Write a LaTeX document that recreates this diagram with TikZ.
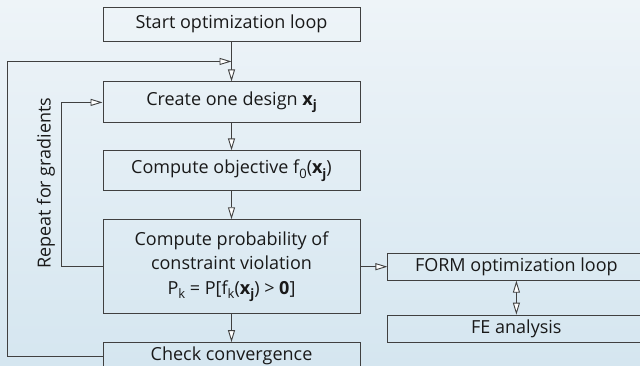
\documentclass[tikz,border=0pt]{standalone}
\usepackage{fontspec}
\setmainfont{Open Sans}
\usetikzlibrary{positioning,arrows.meta,calc}
\newcommand\lowsub[1]{\raisebox{-0.45ex}{\fontsize{13}{13}\selectfont #1}}

\begin{document}
\begin{tikzpicture}[
    x=1pt, y=-1pt,
    node distance=28pt and 27pt,
    stepbox/.style={draw=black!75, line width=0.9pt, minimum width=257pt, inner sep=0pt, align=center, text=black!90, font=\fontsize{18}{24.5}\selectfont},
    flow/.style={draw=black!75, line width=0.9pt, -{Triangle[open, fill=white, length=12pt, width=7pt]}},
    both/.style={flow, {Triangle[open, fill=white, length=12pt, width=7pt]}-{Triangle[open, fill=white, length=12pt, width=7pt]}}
  ]
  % background
  \useasboundingbox (0,0) rectangle (640,365);
  \shade[top color={rgb,255:red,238;green,244;blue,248}, bottom color={rgb,255:red,213;green,230;blue,240}] (0,0) rectangle (640,365);
  \clip (0,0) rectangle (640,365);

  % main column
  \node[stepbox, minimum height=34pt] (start) at (231.5,24) {Start optimization loop};
  \node[stepbox, minimum height=41pt, below=40pt of start] (create) {Create one design \textbf{x\lowsub{j}}};
  \node[stepbox, minimum height=40pt, below=27pt of create] (objective) {Compute objective f\lowsub{0}(\textbf{x\lowsub{j}})};
  \node[stepbox, minimum height=94pt, below=of objective] (prob) {Compute probability of\\constraint violation\\P\lowsub{k} = P[f\lowsub{k}(\textbf{x\lowsub{j}}) > \textbf{0}]};
  \node[stepbox, minimum height=27pt, below=of prob] (check) {Check convergence};

  % reliability side
  \node[stepbox, minimum height=27pt, right=of prob] (form) {FORM optimization loop};
  \node[stepbox, minimum height=27pt, below=34pt of form] (fe) {FE analysis};

  \coordinate (join) at ($(start.south)!0.5!(create.north)$);

  % connectors
  \draw[flow] (start) -- (create);
  \draw[flow] (create) -- (objective);
  \draw[flow] (objective) -- (prob);
  \draw[flow] (prob) -- (check);
  \draw[flow] (prob) -- (form);
  \draw[both] (form) -- (fe);
  \draw[flow] (check.west) -- ++(-95,0) |- (join);
  \draw[flow] (prob.west) -- ++(-41,0) |- (create.west);

  \node[rotate=90, text=black!90, font=\fontsize{18}{24.5}\selectfont] (repeat) at (46,183) {Repeat for gradients};
\end{tikzpicture}
\end{document}
